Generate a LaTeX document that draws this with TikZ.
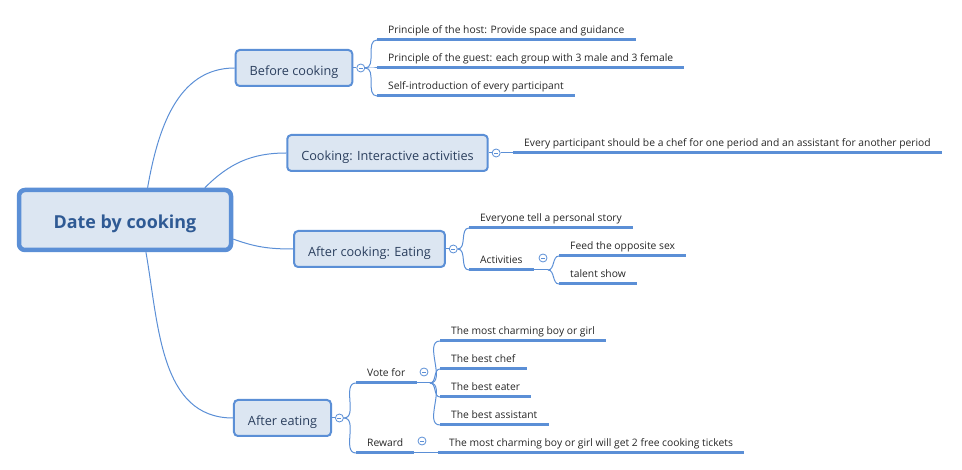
\documentclass[tikz,border=0pt]{standalone}
\usepackage{fontspec}
\setmainfont{Open Sans}
\usepackage{xcolor}
\usepackage{tikz}
\usetikzlibrary{positioning}
\definecolor{mapline}{HTML}{5B8FD6}
\definecolor{mapfill}{HTML}{DCE6F2}
\definecolor{maptext}{HTML}{2B3F5E}
\definecolor{hubtext}{HTML}{2F5A94}
\tikzset{
    hub/.style    = {draw=mapline, fill=mapfill, line width=4.5pt, rounded corners=6pt,
                     font=\fontsize{17.9}{20}\selectfont\bfseries, text=hubtext,
                     text height=18pt, text depth=0pt,
                     minimum width=212pt, minimum height=60pt},
    branch/.style = {draw=mapline, fill=mapfill, line width=2pt, rounded corners=4pt,
                     font=\fontsize{12.7}{15}\selectfont, text=maptext,
                     text height=15pt, text depth=0pt,
                     inner xsep=14pt, minimum height=36pt},
    leaf/.style   = {anchor=south west, font=\fontsize{10.3}{12}\selectfont, text=black!85,
                     inner xsep=11pt, inner ysep=4.5pt, text depth=2pt},
    uline/.style  = {mapline, line width=3pt},
    link/.style   = {mapline, line width=1pt},
    fold/.style   = {circle, draw=mapline, fill=white, line width=0.8pt, minimum size=8pt, inner sep=0pt,
                     path picture={\draw[mapline, line width=0.8pt]
                        ([xshift=2pt]path picture bounding box.west) -- ([xshift=-2pt]path picture bounding box.east);}},
}

\begin{document}
\begin{tikzpicture}[x=1pt, y=1pt]
    \useasboundingbox (0,0) rectangle (962,-470);
    % centre and main topics
    \node[hub] (root) at (125,-220) {Date by cooking};
    \node[branch] (bc) at (294,-68) {Before cooking};
    \node[branch] (ci) at (387.5,-153) {Cooking: Interactive activities};
    \node[branch] (ac) at (369.5,-249) {After cooking: Eating};
    \node[branch] (ae) at (282.5,-418) {After eating};
    \foreach \b in {bc,ci,ac,ae} {
        \node[fold, right=3pt of \b] (\b-f) {};
        \draw[link] (\b.east) -- (\b-f.west);
    }
    \draw[link] (root.55) to[out=80, in=180] (bc.west);
    \draw[link] (root.22) to[out=45, in=180] (ci.west);
    \draw[link] (root.-10) to[out=-20, in=180] (ac.west);
    \draw[link] (root.-57) to[out=-80, in=180] (ae.west);

    % before cooking
    \node[leaf] (h1) at (377,-40) {Principle of the host: Provide space and guidance};
    \node[leaf] (h2) at (377,-68) {Principle of the guest: each group with 3 male and 3 female};
    \node[leaf] (h3) at (377,-96) {Self-introduction of every participant};
    \foreach \l in {h1,h2,h3}
        \draw[link] (bc-f.east) to[out=0, in=180] (\l.south west);

    % cooking
    \node[leaf] (c1) at (513,-153) {Every participant should be a chef for one period and an assistant for another period};
    \draw[link] (ci-f.east) -- (c1.south west);

    % after cooking
    \node[leaf] (e1) at (469,-228) {Everyone tell a personal story};
    \node[leaf] (e2) at (469,-270) {Activities};
    \node[fold] (e2-f) at (543,-258) {};
    \coordinate (e2-j) at (548,-270);
    \node[leaf] (e3) at (559,-256) {Feed the opposite sex};
    \node[leaf] (e4) at (559,-284) {talent show};
    \foreach \l in {e1,e2}
        \draw[link] (ac-f.east) to[out=0, in=180] (\l.south west);
    \draw[link] (e2.south east) -- (e2-j);
    \foreach \l in {e3,e4}
        \draw[link] (e2-j) to[out=0, in=180] (\l.south west);

    % after eating
    \node[leaf] (v0) at (356,-383) {Vote for};
    \node[fold] (v0-f) at (424,-372) {};
    \coordinate (v0-j) at (430,-383);
    \node[leaf] (v1) at (440,-341) {The most charming boy or girl};
    \node[leaf] (v2) at (440,-369) {The best chef};
    \node[leaf] (v3) at (440,-397) {The best eater};
    \node[leaf] (v4) at (440,-425) {The best assistant};
    \node[leaf] (r0) at (356,-453) {Reward};
    \node[fold] (r0-f) at (422,-441) {};
    \node[leaf] (r1) at (438,-453) {The most charming boy or girl will get 2 free cooking tickets};
    \foreach \l in {v0,r0}
        \draw[link] (ae-f.east) to[out=0, in=180] (\l.south west);
    \draw[link] (v0.south east) -- (v0-j);
    \foreach \l in {v1,v2,v3,v4}
        \draw[link] (v0-j) to[out=0, in=180] (\l.south west);
    \draw[link] (r0.south east) -- (r1.south west);

    % underlines
    \foreach \n in {h1,h2,h3,c1,e1,e2,e3,e4,v0,v1,v2,v3,v4,r0,r1}
        \draw[uline] (\n.south west) -- (\n.south east);
\end{tikzpicture}
\end{document}
